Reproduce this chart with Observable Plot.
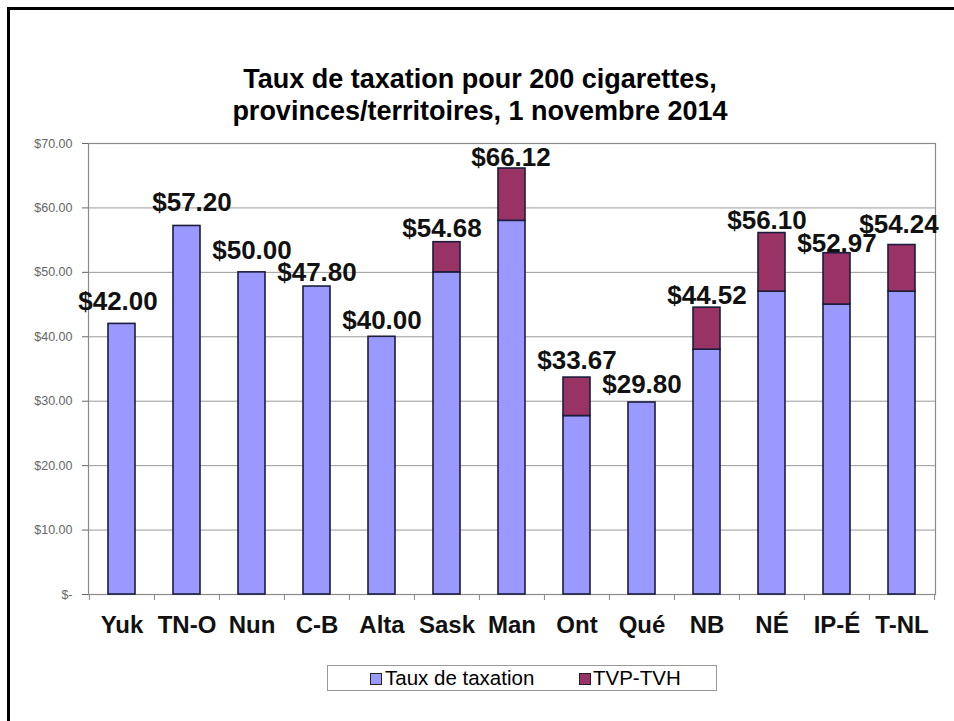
<!DOCTYPE html>
<html><head><meta charset="utf-8">
<script src="https://cdn.jsdelivr.net/npm/d3@7"></script>
<script src="https://cdn.jsdelivr.net/npm/@observablehq/plot@0.6"></script>
<style>
body{margin:0;background:#fff;}
#wrap{position:relative;width:954px;height:721px;overflow:hidden;font-family:'Liberation Sans',Arial,sans-serif;}
#border{position:absolute;left:7px;top:7px;width:960px;height:730px;border-left:3px solid #000;border-top:3px solid #000;box-sizing:border-box;}
#chart{position:absolute;left:0;top:0;}
#title{position:absolute;left:0;width:960px;top:63px;text-align:center;font-weight:bold;font-size:27px;line-height:32px;color:#000;}
#legend{position:absolute;left:327px;top:665px;width:390px;height:26px;border:1px solid #999;box-sizing:border-box;font-size:20.5px;color:#000;}
.sw{position:absolute;top:7px;width:10px;height:10px;border:1px solid #222;}
.lt{position:absolute;top:2px;line-height:20px;white-space:nowrap;}
</style></head>
<body>
<div id="wrap">
  <div id="chart"></div>
  <div id="border"></div>
  <div id="title"></div>
  <div id="legend"></div>
</div>
<script>
const titleLines = ["Taux de taxation pour 200 cigarettes,", "provinces/territoires, 1 novembre 2014"];
const categories = ["Yuk","TN-O","Nun","C-B","Alta","Sask","Man","Ont","Qué","NB","NÉ","IP-É","T-NL"];
const seriesNames = ["Taux de taxation","TVP-TVH"];
const seriesColors = ["#9999FF","#993366"];
const taxBase = [42.00,57.20,50.00,47.80,40.00,50.00,58.00,27.70,29.80,38.00,47.00,45.00,47.00];
const tvpTvh  = [0,0,0,0,0,4.68,8.12,5.97,0,6.52,9.10,7.97,7.24];
const totals  = [42.00,57.20,50.00,47.80,40.00,54.68,66.12,33.67,29.80,44.52,56.10,52.97,54.24];
const yTicks = [0,10,20,30,40,50,60,70];

// label nudges (pixels) as in the reference's hand-placed data labels
const labelGap   = [14, 15, 13, 6, 8, 5, 2, 9, 10, 3.5, 4, 1, 12];
const labelShift = [-4, 5, 0, 0, 0, -5, -1, 0, 0, 0, -5, 0, -3];

document.getElementById("title").innerHTML = titleLines.join("<br>");

const W = 954, H = 721, mL = 88, mR = 19, mT = 143, mB = 127;
const step = (W - mL - mR) / categories.length;

const rows = [];
categories.forEach((c, i) => {
  rows.push({cat: c, series: seriesNames[0], value: taxBase[i]});
  if (tvpTvh[i] > 0) rows.push({cat: c, series: seriesNames[1], value: tvpTvh[i]});
});

const fmt = v => v === 0 ? "$-" : "$" + v.toFixed(2);

const labelMarks = categories.map((c, i) =>
  Plot.text([c], {x: d => d, y: () => totals[i], text: () => "$" + totals[i].toFixed(2),
    lineAnchor: "bottom", dy: -labelGap[i], dx: labelShift[i], fontSize: 26, fontWeight: "bold", fill: "#111"}));

const chart = Plot.plot({
  width: W, height: H,
  marginLeft: mL, marginRight: mR, marginTop: mT, marginBottom: mB,
  style: {fontFamily: "'Liberation Sans', Arial, sans-serif", background: "transparent", overflow: "visible"},
  x: {domain: categories, paddingInner: 0.585, paddingOuter: 0.2925, axis: null, label: null},
  y: {domain: [0, 70], axis: null, label: null},
  color: {domain: seriesNames, range: seriesColors},
  marks: [
    Plot.gridY(yTicks, {stroke: "#9a9a9a", strokeOpacity: 1, strokeWidth: 1}),
    Plot.frame({stroke: "#8a8a8a", strokeWidth: 1.2}),
    Plot.barY(rows, {x: "cat", y: "value", fill: "series", stroke: "#1c1c3c", strokeWidth: 1.6}),
    ...labelMarks,
    Plot.ruleX(categories, {x: d => d, y1: 0, y2: 0, insetBottom: -6, dx: -step / 2, stroke: "#888"}),
    Plot.ruleX([categories[categories.length - 1]], {x: d => d, y1: 0, y2: 0, insetBottom: -6, dx: step / 2, stroke: "#888"}),
    Plot.axisX({tickSize: 0, tickPadding: 21, fontSize: 24, fontWeight: "bold", color: "#111", label: null}),
    Plot.axisY({ticks: yTicks, tickFormat: fmt, tickSize: 6, tickPadding: 10, fontSize: 12.5, color: "#666", label: null})
  ]
});
document.getElementById("chart").appendChild(chart);

const lg = document.getElementById("legend");
const swX = [42, 251], txX = [57, 265];
seriesNames.forEach((s, i) => {
  const sw = document.createElement("div");
  sw.className = "sw"; sw.style.left = swX[i] + "px"; sw.style.background = seriesColors[i];
  const t = document.createElement("div");
  t.className = "lt"; t.style.left = txX[i] + "px"; t.textContent = s;
  lg.appendChild(sw); lg.appendChild(t);
});
</script>
</body></html>
